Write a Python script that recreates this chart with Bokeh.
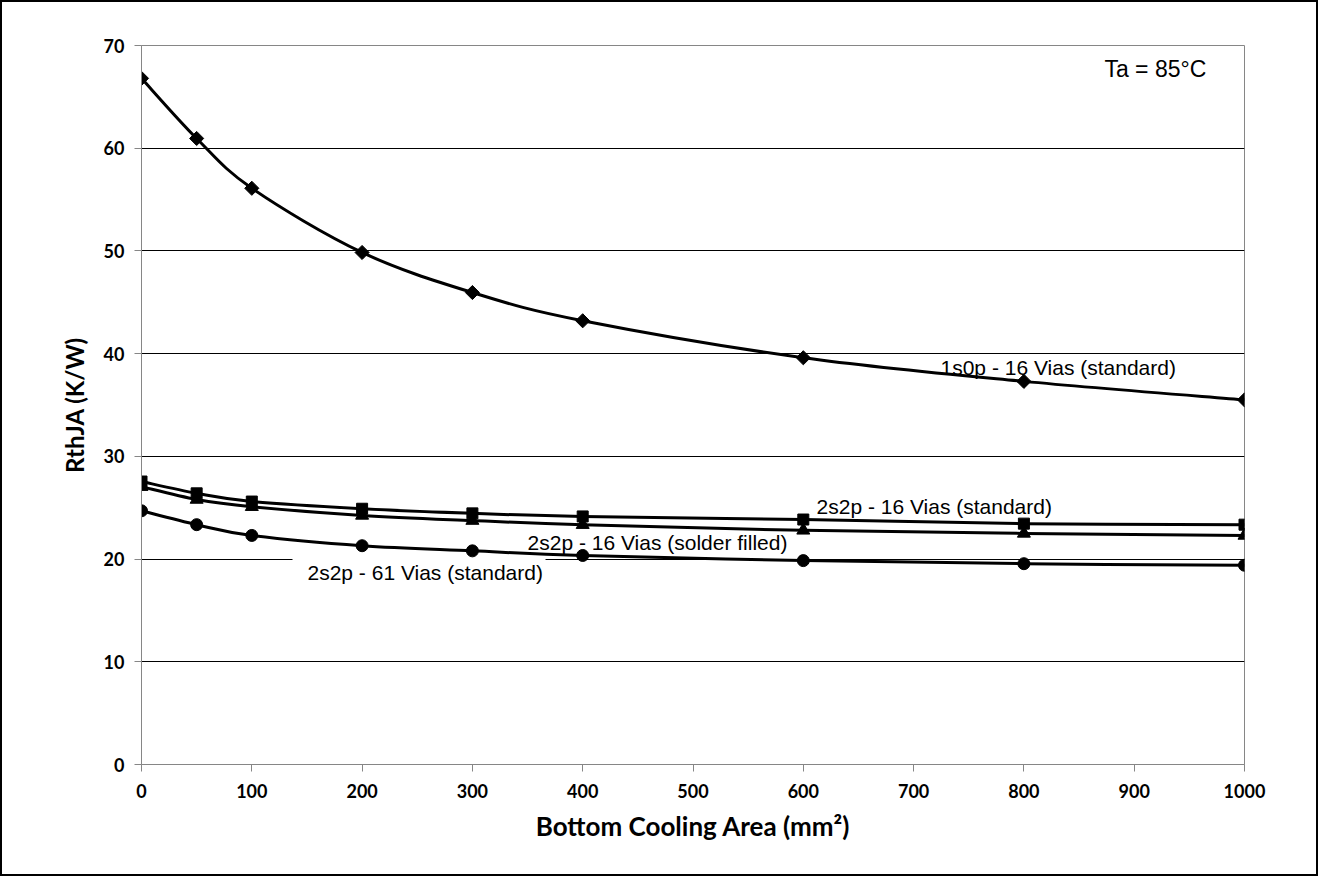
import numpy as np
from bokeh.plotting import figure
from bokeh.models import Label, FixedTicker, Range1d
from bokeh.embed import file_html
from bokeh.resources import INLINE

# ---- data ----
area = [0, 50, 100, 200, 300, 400, 600, 800, 1000]
s1_name = "1s0p - 16 Vias (standard)"
s1_vals = [66.8, 60.95, 56.1, 49.85, 45.95, 43.2, 39.6, 37.3, 35.5]
s2_name = "2s2p - 16 Vias (standard)"
s2_vals = [27.55, 26.4, 25.6, 24.9, 24.45, 24.15, 23.85, 23.45, 23.35]
s3_name = "2s2p - 16 Vias (solder filled)"
s3_vals = [27.05, 25.8, 25.1, 24.25, 23.75, 23.35, 22.8, 22.5, 22.3]
s4_name = "2s2p - 61 Vias (standard)"
s4_vals = [24.7, 23.35, 22.3, 21.3, 20.8, 20.35, 19.85, 19.55, 19.4]
x_ticks = [0, 100, 200, 300, 400, 500, 600, 700, 800, 900, 1000]
y_ticks = [0, 10, 20, 30, 40, 50, 60, 70]
x_title = "Bottom Cooling Area (mm²)"
y_title = "RthJA (K/W)"
note = "Ta = 85°C"

W, H = 1318, 876
p = figure(width=W, height=H, output_backend="svg", toolbar_location=None,
           x_range=Range1d(0, 1000), y_range=Range1d(0, 70),
           min_border_left=139, min_border_right=76,
           min_border_top=43, min_border_bottom=114)
p.styles = {"border": "2px solid black"}
p.background_fill_color = "white"
p.border_fill_color = "white"
p.outline_line_color = "#868686"
p.outline_line_width = 1

axis_gray = "#868686"
for ax in (p.xaxis[0], p.yaxis[0]):
    ax.axis_line_color = axis_gray
    ax.major_tick_line_color = axis_gray
    ax.major_tick_out = 7
    ax.major_tick_in = 0
    ax.minor_tick_line_color = None
    ax.major_label_text_font = "Lato"
    ax.major_label_text_font_style = "bold"
    ax.major_label_text_font_size = "18px"
    ax.major_label_text_color = "black"
    ax.axis_label_text_font = "Lato"
    ax.axis_label_text_font_style = "bold"
    ax.axis_label_text_color = "black"

p.xaxis.axis_label_text_font_size = "26px"
p.yaxis.axis_label_text_font_size = "24px"
p.xaxis.ticker = FixedTicker(ticks=x_ticks)
p.yaxis.ticker = FixedTicker(ticks=y_ticks)
p.xaxis.axis_label = x_title
p.yaxis.axis_label = y_title
p.xaxis.major_label_standoff = 12
p.yaxis.major_label_standoff = 10
p.xaxis.axis_label_standoff = 9
p.yaxis.axis_label_standoff = 12

p.xgrid.grid_line_color = None
p.ygrid.grid_line_color = "black"
p.ygrid.grid_line_width = 1

# white box behind the "61 Vias" label (hides the gridline there)
p.quad(left=[136.9], right=[366.3], bottom=[16.9], top=[20.3],
       fill_color="white", line_color=None)


def smooth(xs, ys):
    xs = np.asarray(xs, float)
    ys = np.asarray(ys, float)
    n = len(xs)
    x0, y0, x1, y1, cx0, cy0, cx1, cy1 = ([] for _ in range(8))
    for i in range(n - 1):
        im = max(i - 1, 0)
        ip2 = min(i + 2, n - 1)
        x0.append(xs[i]); y0.append(ys[i])
        x1.append(xs[i + 1]); y1.append(ys[i + 1])
        cx0.append(xs[i] + (xs[i + 1] - xs[im]) / 6)
        cy0.append(ys[i] + (ys[i + 1] - ys[im]) / 6)
        cx1.append(xs[i + 1] - (xs[ip2] - xs[i]) / 6)
        cy1.append(ys[i + 1] - (ys[ip2] - ys[i]) / 6)
    return dict(x0=x0, y0=y0, x1=x1, y1=y1, cx0=cx0, cy0=cy0, cx1=cx1, cy1=cy1)


series = [
    (s1_vals, "square", 10, np.pi / 4),
    (s2_vals, "square", 11, 0),
    (s3_vals, "triangle", 13, 0),
    (s4_vals, "circle", 12, 0),
]
for vals, marker, size, ang in series:
    p.bezier(line_color="black", line_width=3, **smooth(area, vals))
    p.scatter(area, vals, marker=marker, size=size, angle=ang,
              fill_color="black", line_color="black")

labels = [
    (s1_name, 724.4, 38.65),
    (s2_name, 612.0, 25.1),
    (s3_name, 350.0, 21.6),
    (s4_name, 150.5, 18.7),
]
for txt, lx, ly in labels:
    p.add_layout(Label(x=lx, y=ly, text=txt, text_font="Liberation Sans",
                       text_font_size="21px", text_baseline="middle",
                       text_align="left", text_color="black"))
p.add_layout(Label(x=873, y=67.76, text=note, text_font="Liberation Sans",
                   text_font_size="23px", text_baseline="middle",
                   text_align="left", text_color="black"))

open("out.html", "w").write(file_html(p, INLINE))
